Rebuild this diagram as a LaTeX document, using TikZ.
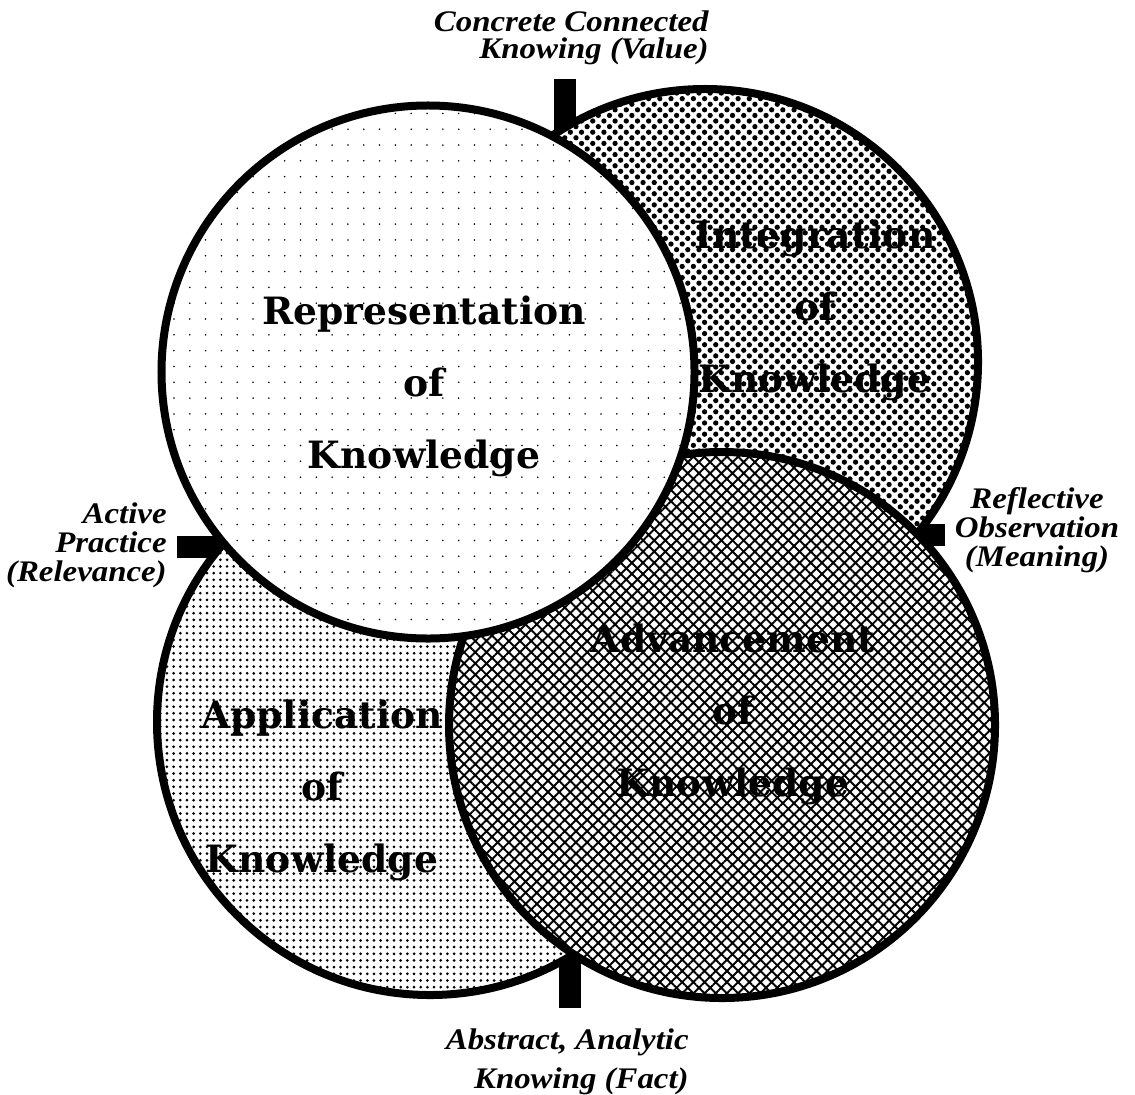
\documentclass[tikz,border=0pt]{standalone}
\usepackage{fontspec}
\newfontfamily\headfont{DejaVu Serif}
\newfontfamily\tagfont{Liberation Serif}[FakeStretch=1.1]
\usetikzlibrary{patterns.meta}

\begin{document}
\begin{tikzpicture}[x=0.2mm,y=-0.2mm,
   ring/.style={circle,draw,line width=1.6mm,minimum size=#1,inner sep=0pt,
     preaction={fill=white},pattern color=black},
   ring/.default=109.2mm,
   hd/.style={font=\headfont\bfseries\fontsize{21.4}{41}\selectfont,align=center,inner sep=0pt},
   tg/.style={font=\tagfont\bfseries\itshape\fontsize{17}{#1}\selectfont,inner sep=0pt},
   post/.style={line width=4.4mm}]
  \useasboundingbox (0,0) rectangle (1135,1094);
  % posts first, the circles cover their inner ends
  \coordinate (pt1) at (565,79);   \coordinate (pt2) at (565,145);
  \coordinate (pl1) at (177,547);  \coordinate (pl2) at (235,547);
  \coordinate (pr1) at (945,535);  \coordinate (pr2) at (905,535);
  \coordinate (pb1) at (570,1008); \coordinate (pb2) at (570,940);
  \draw[post] (pt1) -- (pt2);
  \draw[post] (pl1) -- (pl2);
  \draw[post] (pr1) -- (pr2);
  \draw[post] (pb1) -- (pb2);
  \node[ring,pattern={Dots[angle=45,distance=4.5pt,radius=1.5pt]}] (integ) at (705,362) {};
  \node[ring,pattern={Dots[distance=3.8pt,radius=0.85pt]}] (appl) at (430,722) {};
  \node[ring,pattern={Hatch[angle=45,distance=4.5pt,line width=1.1pt]}] (adv) at (722,725) {};
  \node[ring=106.6mm,pattern={Dots[distance=9pt,radius=0.5pt]}] (repr) at (428,372) {};
  \node[hd] (reprtxt) at (424,386) {Representation\\of\\Knowledge};
  \node[hd] (integtxt) at (815,310) {Integration\\of\\Knowledge};
  \node[hd] (advtxt) at (733,714) {Advancement\\of\\Knowledge};
  \node[hd] (appltxt) at (322,790) {Application\\of\\Knowledge};
  \node[tg=15.5,align=right,anchor=east] (ccv) at (709,38) {Concrete Connected\\Knowing (Value)};
  \node[tg=16.5,align=right,anchor=east] (apr) at (167,545) {Active\\Practice\\(Relevance)};
  \node[tg=16.5,align=center] (rom) at (1037,530) {Reflective\\Observation\\(Meaning)};
  \node[tg=22.2,align=right,anchor=east] (aaf) at (689,1062) {Abstract, Analytic\\Knowing (Fact)};
\end{tikzpicture}
\end{document}
